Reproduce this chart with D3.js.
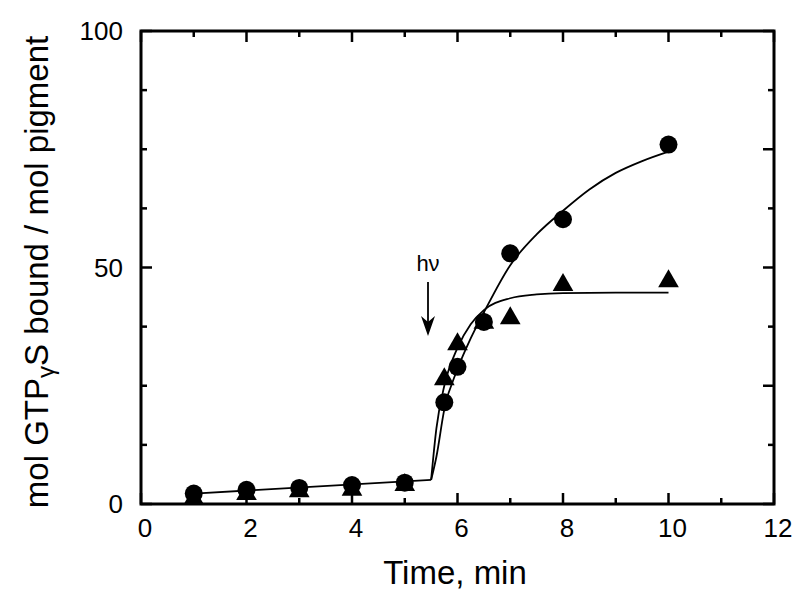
<!DOCTYPE html>
<html lang="en">
<head>
    <meta charset="UTF-8">
    <title>GTPgS binding</title>
    <script src="https://d3js.org/d3.v7.min.js"></script>
    <style>
        body { margin: 0; background: #fff; }
        text { font-family: "Liberation Sans", Arial, sans-serif; fill: #000; }
    </style>
</head>
<body>
<svg id="chart" width="800" height="600"></svg>
<script>
    // measured points
    const timeCircle = [1, 2, 3, 4, 5, 5.75, 6, 6.5, 7, 8, 10];
    const circleVals = [2.2, 3.0, 3.4, 4.0, 4.5, 21.5, 29, 38.5, 53, 60.2, 76];
    const timeTri = [1, 2, 3, 4, 5, 5.75, 6, 6.5, 7, 8, 10];
    const triVals = [1.3, 2.3, 2.9, 3.2, 4.2, 26.6, 34, 38.5, 39.5, 46.5, 47.3];

    // fitted curves
    const baseFitT = [1, 5.5];
    const baseFitY = [2.2, 5.1];
    const circleFitT = [5.5, 5.6, 5.75, 6, 6.25, 6.5, 7, 7.5, 8, 8.5, 9, 9.5, 10];
    const circleFitY = [5.1, 10, 20, 28.5, 35, 40.5, 50.5, 57, 62, 66.5, 70, 72.5, 74.5];
    const triFitT = [5.5, 5.6, 5.75, 6, 6.25, 6.5, 7, 7.5, 8, 9, 10];
    const triFitY = [5.1, 16, 25, 33, 38, 41, 43.5, 44.3, 44.6, 44.7, 44.7];

    const xTicks = [0, 2, 4, 6, 8, 10, 12];
    const yTicks = [0, 50, 100];

    const svg = d3.select("#chart");

    const x = d3.scaleLinear().domain([0, 12]).range([141, 774]);
    const y = d3.scaleLinear().domain([0, 100]).range([504, 31]);

    const zip = (a, b) => a.map((d, i) => [d, b[i]]);

    const line = d3.line()
        .x(d => x(d[0]))
        .y(d => y(d[1]))
        .curve(d3.curveMonotoneX);

    // fit lines
    [zip(baseFitT, baseFitY), zip(circleFitT, circleFitY), zip(triFitT, triFitY)].forEach(pts => {
        svg.append("path")
            .attr("d", line(pts))
            .attr("fill", "none")
            .attr("stroke", "#000")
            .attr("stroke-width", 1.8);
    });

    // triangles
    const tri = d3.symbol().type(d3.symbolTriangle).size(185);
    svg.append("g")
        .selectAll("path")
        .data(zip(timeTri, triVals))
        .join("path")
        .attr("d", tri)
        .attr("transform", d => `translate(${x(d[0])},${y(d[1]) + 1})`)
        .attr("fill", "#000");

    // circles
    svg.append("g")
        .selectAll("circle")
        .data(zip(timeCircle, circleVals))
        .join("circle")
        .attr("cx", d => x(d[0]))
        .attr("cy", d => y(d[1]))
        .attr("r", 9)
        .attr("fill", "#000");

    // inward ticks, all four sides
    const tk = svg.append("g").attr("stroke", "#000").attr("stroke-width", 2.5);
    d3.range(0, 12.01, 1).forEach(v => {
        const len = v % 2 === 0 ? 11 : 6;
        tk.append("line").attr("x1", x(v)).attr("x2", x(v)).attr("y1", y(0)).attr("y2", y(0) - len);
        tk.append("line").attr("x1", x(v)).attr("x2", x(v)).attr("y1", y(100)).attr("y2", y(100) + len);
    });
    d3.range(0, 100.01, 12.5).forEach(v => {
        const lenL = v % 50 === 0 ? 11 : 6;
        const lenR = v % 25 === 0 ? 11 : 6;
        tk.append("line").attr("x1", x(0)).attr("x2", x(0) + lenL).attr("y1", y(v)).attr("y2", y(v));
        tk.append("line").attr("x1", x(12)).attr("x2", x(12) - lenR).attr("y1", y(v)).attr("y2", y(v));
    });

    // frame
    svg.append("rect")
        .attr("x", x(0)).attr("y", y(100))
        .attr("width", x(12) - x(0)).attr("height", y(0) - y(100))
        .attr("fill", "none").attr("stroke", "#000").attr("stroke-width", 3);

    // tick labels
    svg.append("g").selectAll("text")
        .data(xTicks)
        .join("text")
        .attr("x", d => x(d) + 4)
        .attr("y", 537)
        .attr("text-anchor", "middle")
        .attr("font-size", 26)
        .text(d => d);

    svg.append("g").selectAll("text")
        .data(yTicks)
        .join("text")
        .attr("x", 123)
        .attr("y", d => y(d) + 9)
        .attr("text-anchor", "end")
        .attr("font-size", 26)
        .text(d => d);

    // axis titles
    svg.append("text")
        .attr("x", 455).attr("y", 584)
        .attr("text-anchor", "middle")
        .attr("font-size", 33)
        .text("Time, min");

    const yt = svg.append("text")
        .attr("transform", "translate(48,272) rotate(-90)")
        .attr("text-anchor", "middle")
        .attr("font-size", 33);
    yt.append("tspan").text("mol GTP");
    yt.append("tspan").attr("font-size", 24).attr("dy", 6).text("γ");
    yt.append("tspan").attr("dy", -6).text("S bound / mol pigment");

    // h-nu arrow
    svg.append("text")
        .attr("x", 428).attr("y", 271)
        .attr("text-anchor", "middle")
        .attr("font-size", 22)
        .text("hν");
    svg.append("line")
        .attr("x1", 428).attr("x2", 428).attr("y1", 282).attr("y2", 330)
        .attr("stroke", "#000").attr("stroke-width", 1.8);
    svg.append("path")
        .attr("d", "M421,316 L428,336 L435,316 L428,322 Z")
        .attr("fill", "#000");
</script>
</body>
</html>
